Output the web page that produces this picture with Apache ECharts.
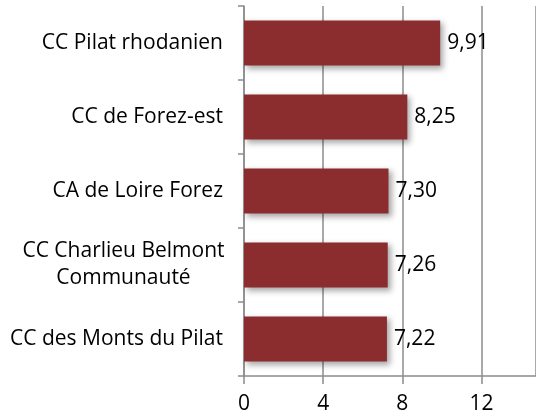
<!DOCTYPE html>
<html>
<head>
<meta charset="utf-8">
<script src="https://cdn.jsdelivr.net/npm/echarts@6/dist/echarts.min.js"></script>
<style>
  html, body { margin: 0; padding: 0; background: #fff; }
  #topline { position: absolute; left: 0; top: 0; width: 536px; height: 3px; background: #e8b6b9; }
  #chart { width: 536px; height: 416px; }
</style>
</head>
<body>
<div id="topline"></div>
<div id="chart"></div>
<script>
// territoires, du bas vers le haut
const categories = [
  'CC des Monts du Pilat',
  'CC Charlieu Belmont\nCommunauté',
  'CA de Loire Forez',
  'CC de Forez-est',
  'CC Pilat rhodanien'
]
const values = [7.22, 7.26, 7.30, 8.25, 9.91]
const xTicks = [0, 4, 8, 12]

let myChart = echarts.init(document.getElementById('chart'))
let font = '"Open Sans", sans-serif'

let option = {
  backgroundColor: '#fff',
  animation: false,
  grid: {
    left: 244,
    top: 6,
    right: 0,
    bottom: 40
  },
  xAxis: {
    type: 'value',
    min: 0,
    max: 14.75,
    interval: 4,
    axisLine: {show: true, lineStyle: {color: '#8c8c8c', width: 1.5}},
    axisTick: {show: true, length: 8, lineStyle: {color: '#8c8c8c', width: 1.5}},
    axisLabel: {
      color: '#000',
      fontSize: 21,
      fontFamily: font,
      margin: 18,
      showMaxLabel: false,
      formatter: function (v) {
        return xTicks.indexOf(v) >= 0 ? String(v) : ''
      }
    },
    splitLine: {show: true, lineStyle: {color: '#8c8c8c', width: 1.5}}
  },
  yAxis: {
    type: 'category',
    data: categories,
    axisLine: {show: true, lineStyle: {color: '#8c8c8c', width: 1.5}},
    axisTick: {show: true, length: 6, lineStyle: {color: '#8c8c8c', width: 1.5}},
    axisLabel: {
      color: '#000',
      fontSize: 21,
      fontFamily: font,
      margin: 21,
      lineHeight: 27,
      align: 'right',
      formatter: function (v) {
        // lignes centrées pour le libellé sur deux lignes
        if (v.indexOf('\n') < 0) return v
        return v.split('\n').map(s => '{c|' + s + '}').join('\n')
      },
      rich: {
        c: {
          width: 199,
          align: 'center',
          fontSize: 21,
          fontFamily: font,
          lineHeight: 27,
          color: '#000'
        }
      }
    }
  },
  series: [{
    type: 'bar',
    data: values,
    barWidth: '61%',
    itemStyle: {
      color: '#8b2c2f',
      shadowColor: 'rgba(0,0,0,0.35)',
      shadowBlur: 6,
      shadowOffsetX: 3,
      shadowOffsetY: 3
    },
    label: {
      show: true,
      position: 'right',
      distance: 7,
      color: '#000',
      fontSize: 21,
      fontFamily: font,
      formatter: function (p) {
        return p.value.toFixed(2).replace('.', ',')
      }
    }
  }]
}
myChart.setOption(option)
</script>
</body>
</html>
